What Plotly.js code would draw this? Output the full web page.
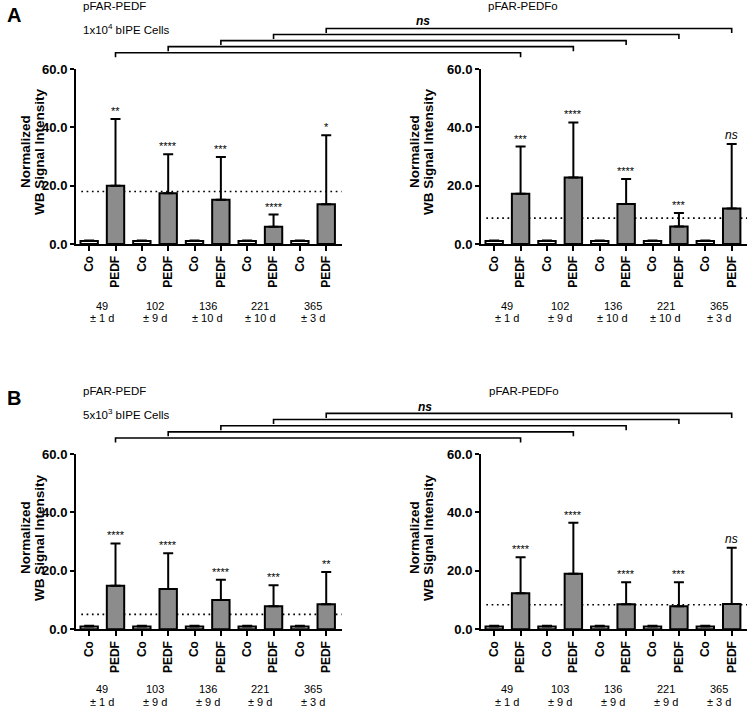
<!DOCTYPE html>
<html><head><meta charset="utf-8">
<script src="https://cdn.plot.ly/plotly-3.0.1.min.js"></script>
<style>html,body{margin:0;padding:0;background:#fff}#chart{width:747px;height:708px}</style>
</head><body><div id="chart"></div>
<script>
// ---------- data ----------
const barLabels = ["Co","PEDF","Co","PEDF","Co","PEDF","Co","PEDF","Co","PEDF"];
const daysA = ["49","102","136","221","365"];
const sdA   = ["± 1 d","± 9 d","± 10 d","± 10 d","± 3 d"];
const daysB = ["49","103","136","221","365"];
const sdB   = ["± 1 d","± 9 d","± 9 d","± 9 d","± 3 d"];

const aLeftMean  = [1.0,20.0,1.0,17.4,1.0,15.2,1.0,5.9,1.0,13.6];
const aLeftErr   = [0.2,22.9,0.2,13.4,0.2,14.6,0.2,4.2,0.2,23.7];
const aLeftSig   = ["**","****","***","****","*"];
const aLeftRef   = 18.0;

const aRightMean = [1.0,17.2,1.0,22.8,1.0,13.7,1.0,6.0,1.0,12.2];
const aRightErr  = [0.2,16.2,0.2,18.9,0.2,8.6,0.2,4.6,0.2,22.1];
const aRightSig  = ["***","****","****","***","ns"];
const aRightRef  = 8.9;

const bLeftMean  = [1.0,14.9,1.0,13.8,1.0,10.0,1.0,7.9,1.0,8.6];
const bLeftErr   = [0.2,14.5,0.2,12.2,0.2,7.0,0.2,7.2,0.2,11.0];
const bLeftSig   = ["****","****","****","***","**"];
const bLeftRef   = 5.1;

const bRightMean = [1.0,12.3,1.0,19.0,1.0,8.6,1.0,7.9,1.0,8.7];
const bRightErr  = [0.2,12.4,0.2,17.5,0.2,7.5,0.2,8.2,0.2,19.2];
const bRightSig  = ["****","****","****","***","ns"];
const bRightRef  = 8.4;

const yTicks = [0,20,40,60];

// ---------- layout helpers ----------
const W = 747, H = 708;
const FONT = "Liberation Sans, Arial, Helvetica, sans-serif";
const XR = [-0.5, 9.58];
const fx = v => v / W;
const fy = v => 1 - v / H;
const idx = barLabels.map((_, i) => i);

const panels = [
  {s:"", dom:[76,341.5], yd:[69,244],   mean:aLeftMean,  err:aLeftErr,  sig:aLeftSig,  ref:aLeftRef,  days:daysA, sd:sdA, tx:[25,39],   ty:152, dy:[305.7,318]},
  {s:"2",dom:[481,747],  yd:[69,244],   mean:aRightMean, err:aRightErr, sig:aRightSig, ref:aRightRef, days:daysA, sd:sdA, tx:[414,428], ty:152, dy:[305.7,318]},
  {s:"3",dom:[76,341.5], yd:[454,629.3],mean:bLeftMean,  err:bLeftErr,  sig:bLeftSig,  ref:bLeftRef,  days:daysB, sd:sdB, tx:[25,39],   ty:538, dy:[689,701.5]},
  {s:"4",dom:[481,747],  yd:[454,629.3],mean:bRightMean, err:bRightErr, sig:bRightSig, ref:bRightRef, days:daysB, sd:sdB, tx:[414,428], ty:538, dy:[689,701.5]}
];

const traces = [];
const layout = {
  width: W, height: H, margin:{l:0,r:0,t:0,b:0},
  paper_bgcolor:"#fff", plot_bgcolor:"rgba(0,0,0,0)",
  showlegend:false, font:{family:FONT, color:"#000"},
  annotations:[], shapes:[]
};

panels.forEach(p => {
  const xa = "x"+p.s, ya = "y"+p.s;
  traces.push({
    type:"bar", x:idx, y:p.mean, xaxis:xa, yaxis:ya, width:0.66,
    marker:{color: barLabels.map(l => l==="Co" ? "#ffffff" : "#8c8c8c"), line:{color:"#000", width:2}},
    error_y:{type:"data", array:p.err, arrayminus:p.err.map(()=>0), symmetric:false, color:"#000", thickness:2, width:5},
    hoverinfo:"none"
  });
  layout["xaxis"+p.s] = {
    domain:[fx(p.dom[0]), fx(p.dom[1])], range:XR, anchor:ya,
    showline:true, linecolor:"#000", linewidth:2, ticks:"outside", ticklen:5, tickwidth:2, tickcolor:"#000",
    tickvals:idx, ticktext:barLabels, tickangle:-90,
    tickfont:{family:FONT, size:12, weight:700, color:"#000"},
    showgrid:false, zeroline:false, fixedrange:true, automargin:false
  };
  layout["yaxis"+p.s] = {
    domain:[fy(p.yd[1]), fy(p.yd[0])], range:[0,60], anchor:xa,
    showline:true, linecolor:"#000", linewidth:2, ticks:"outside", ticklen:4, tickwidth:2, tickcolor:"#000",
    tickvals:yTicks, tickformat:".1f",
    tickfont:{family:FONT, size:13, weight:700, color:"#000"},
    showgrid:false, zeroline:false, fixedrange:true, automargin:false
  };
  // dotted reference line
  layout.shapes.push({type:"line", layer:"below", xref:xa+" domain", yref:ya, x0:0.02, x1:1, y0:p.ref, y1:p.ref,
    line:{color:"#000", width:1.7, dash:"1.7px,3.6px"}});
  // significance marks
  p.sig.forEach((t,g) => {
    const i = 2*g+1;
    const ns = t === "ns";
    layout.annotations.push({xref:xa, yref:ya, x:i, y:p.mean[i]+p.err[i], xanchor:"center", yanchor:"bottom", showarrow:false,
      text: ns ? "<i>ns</i>" : t, font:{family:FONT, size: ns ? 12 : 11, color:"#000"}});
  });
  // group day labels
  p.days.forEach((d,g) => {
    layout.annotations.push({xref:xa, yref:"paper", x:2*g+0.5, y:fy(p.dy[0]), xanchor:"center", yanchor:"middle", showarrow:false, text:d,
      font:{family:FONT, size:11, color:"#000"}});
    layout.annotations.push({xref:xa, yref:"paper", x:2*g+0.5, y:fy(p.dy[1]), xanchor:"center", yanchor:"middle", showarrow:false, text:p.sd[g],
      font:{family:FONT, size:11, color:"#000"}});
  });
  // y titles
  layout.annotations.push({xref:"paper", yref:"paper", x:fx(p.tx[0]), y:fy(p.ty), xanchor:"center", yanchor:"middle", textangle:-90, showarrow:false,
    text:"Normalized", font:{family:FONT, size:13.5, weight:700, color:"#000"}});
  layout.annotations.push({xref:"paper", yref:"paper", x:fx(p.tx[1]), y:fy(p.ty), xanchor:"center", yanchor:"middle", textangle:-90, showarrow:false,
    text:"WB Signal Intensity", font:{family:FONT, size:13.5, weight:700, color:"#000"}});
});

// pixel x of a bar index in a panel domain
const barPx = (dom, i) => dom[0] + (i - XR[0]) / (XR[1]-XR[0]) * (dom[1]-dom[0]);

// brackets comparing PEDF bars between left and right panels
function brackets(left, right, yBottom, step) {
  for (let g = 0; g < 5; g++) {
    const i = 2*g+1;
    const x1 = fx(barPx(left.dom, i)), x2 = fx(barPx(right.dom, i));
    const y = yBottom - step*g;
    const yt = fy(y), yd = fy(y+4.5);
    layout.shapes.push({type:"path", xref:"paper", yref:"paper",
      path:`M${x1},${yd} L${x1},${yt} L${x2},${yt} L${x2},${yd}`, line:{color:"#000", width:1.6}});
  }
}
brackets(panels[0], panels[1], 52.7, 6.05);
brackets(panels[2], panels[3], 438, 6.15);

// header texts
const addText = (text, x, y, opts) => layout.annotations.push(Object.assign({xref:"paper", yref:"paper", x:fx(x), y:fy(y),
  xanchor:"center", yanchor:"middle", showarrow:false, text:text, font:{family:FONT, size:11.5, color:"#000"}}, opts||{}));
addText("A", 5, 15, {xanchor:"left", font:{family:FONT, size:20, weight:700, color:"#000"}});
addText("B", 5, 398, {xanchor:"left", font:{family:FONT, size:20, weight:700, color:"#000"}});
addText("pFAR-PEDF", 81, 5.5, {xanchor:"left"});
addText("1x10<sup>4</sup> bIPE Cells", 81, 29, {xanchor:"left"});
addText("pFAR-PEDFo", 522.5, 6);
addText("pFAR-PEDF", 81, 390.7, {xanchor:"left"});
addText("5x10<sup>3</sup> bIPE Cells", 81, 414.3, {xanchor:"left"});
addText("pFAR-PEDFo", 524, 390.7);
addText("<b><i>ns</i></b>", 423, 21, {font:{family:FONT, size:12, color:"#000"}});
addText("<b><i>ns</i></b>", 425, 407, {font:{family:FONT, size:12, color:"#000"}});

Plotly.newPlot("chart", traces, layout, {staticPlot:true, displayModeBar:false});
</script>
</body></html>
